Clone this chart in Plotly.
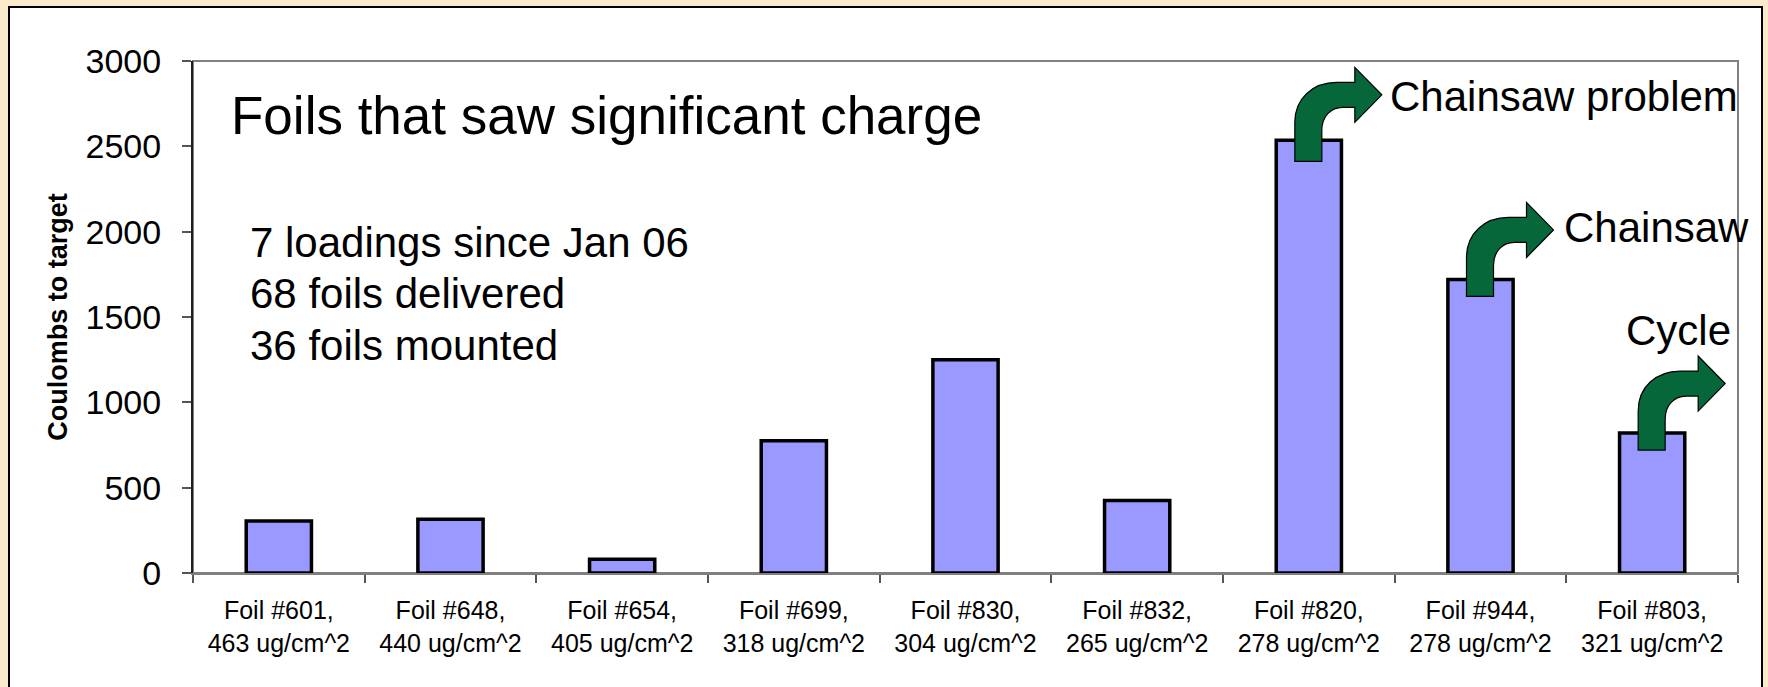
import plotly.graph_objects as go

# Foils and the charge each one saw
foils = ["Foil #601,<br>463 ug/cm^2", "Foil #648,<br>440 ug/cm^2", "Foil #654,<br>405 ug/cm^2",
         "Foil #699,<br>318 ug/cm^2", "Foil #830,<br>304 ug/cm^2", "Foil #832,<br>265 ug/cm^2",
         "Foil #820,<br>278 ug/cm^2", "Foil #944,<br>278 ug/cm^2", "Foil #803,<br>321 ug/cm^2"]
coulombs = [305, 315, 80, 775, 1250, 425, 2535, 1720, 820]

# Foils whose run ended with a note
callout_index = [6, 7, 8]
callout_text = ["Chainsaw problem", "Chainsaw", "Cycle"]

# Summary lines written inside the chart
summary_lines = ["7 loadings since Jan 06", "68 foils delivered", "36 foils mounted"]

y_ticks = [0, 500, 1000, 1500, 2000, 2500, 3000]

FONT = "Liberation Sans, Arial, sans-serif"
W, H = 1768, 687
ML, MR, MT, MB = 193, 30, 61, 114
PW, PH = W - ML - MR, H - MT - MB


def px_x(p):
    return (p - ML) / PW


def px_y(p):
    return (H - MB - p) / PH


fig = go.Figure()
fig.add_trace(go.Bar(
    x=foils, y=coulombs, width=0.38,
    marker=dict(color="#9999FF", line=dict(color="#000000", width=3.5)),
    hoverinfo="x+y",
))

shapes = []
# white slide panel with black border
shapes.append(dict(type="rect", xref="paper", yref="paper", layer="below",
                   x0=px_x(9), x1=px_x(1762), y0=px_y(7), y1=px_y(720),
                   fillcolor="#FFFFFF", line=dict(color="#000000", width=2)))
# grey plot-area frame
shapes.append(dict(type="rect", xref="paper", yref="paper", layer="below",
                   x0=0, x1=1, y0=0, y1=1,
                   fillcolor="rgba(0,0,0,0)", line=dict(color="#808080", width=2)))

# bent arrow outline (pixels, relative to top centre of a bar, y up)
ARROW = ("M-14,-17 L-14,22 C-14,46 4,62 28,62 L46,62 L46,77 L73,49.5 "
         "L46,22 L46,37 L34,37 C22,37 13,28 13,14 L13,-17 Z")
annotations = []
label_shift = {6: (79, 44), 7: (81, 52), 8: (-28, 103)}
arrow_shift = {6: -4, 7: 0, 8: 0}
for i, txt in zip(callout_index, callout_text):
    shapes.append(dict(type="path", xref="x", yref="y", xsizemode="pixel", ysizemode="pixel",
                       xanchor=i, yanchor=coulombs[i] + arrow_shift[i] / (PH / 3000),
                       path=ARROW, fillcolor="#05673A", line=dict(color="#000000", width=1.2),
                       layer="above"))
    dx, dy = label_shift[i]
    annotations.append(dict(x=foils[i], y=coulombs[i], xref="x", yref="y",
                            text=txt, showarrow=False, xanchor="left", yanchor="middle",
                            xshift=dx, yshift=dy,
                            font=dict(family=FONT, size=42, color="#000000")))

annotations.append(dict(x=px_x(229), y=px_y(115), xref="paper", yref="paper",
                        text="Foils that saw significant charge", showarrow=False,
                        xanchor="left", yanchor="middle",
                        font=dict(family=FONT, size=53, color="#000000")))
for k, line in enumerate(summary_lines):
    annotations.append(dict(x=px_x(248), y=px_y(242 + 51.6 * k), xref="paper", yref="paper",
                            text=line, showarrow=False, xanchor="left", yanchor="middle",
                            font=dict(family=FONT, size=42, color="#000000")))

fig.update_layout(
    width=W, height=H,
    margin=dict(l=ML, r=MR, t=MT, b=MB, autoexpand=False),
    paper_bgcolor="#F9EACB",
    plot_bgcolor="#FFFFFF",
    showlegend=False,
    shapes=shapes,
    annotations=annotations,
    font=dict(family=FONT, color="#000000"),
)
fig.update_xaxes(
    type="category", range=[-0.5, len(foils) - 0.5], tickson="boundaries",
    ticks="outside", ticklen=8, tickwidth=1.5,
    tickcolor="#555555", showline=True, linecolor="#808080", linewidth=2,
    showgrid=False, tickfont=dict(family=FONT, size=25, color="#000000"),
    ticklabelstandoff=14,
)
fig.update_yaxes(
    range=[0, 3000], tickvals=y_ticks, ticktext=[str(v) for v in y_ticks],
    ticks="outside", ticklen=9, tickwidth=1.5, tickcolor="#555555",
    showline=True, linecolor="#202020", linewidth=2, showgrid=False, zeroline=False,
    tickfont=dict(family=FONT, size=34, color="#000000"), ticklabelstandoff=14,
    title=dict(text="<b>Coulombs to target</b>", standoff=10,
               font=dict(family=FONT, size=27, color="#000000")),
)

fig.write_html("out.html")
